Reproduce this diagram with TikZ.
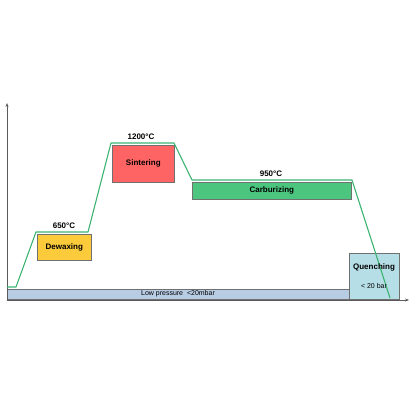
\documentclass[tikz,border=0pt]{standalone}
\usepackage{fontspec}
\setmainfont{Liberation Sans}
\usetikzlibrary{arrows.meta}
\definecolor{dewax}{HTML}{FBCB3C}
\definecolor{sinter}{HTML}{FF6464}
\definecolor{carb}{HTML}{4CC57E}
\definecolor{quench}{HTML}{B6DEE6}
\definecolor{lowp}{HTML}{B8CCE4}
\definecolor{curve}{HTML}{3CB371}
\definecolor{edge}{HTML}{707070}
\begin{document}
\begin{tikzpicture}[x=1pt,y=-1pt,
  stage/.style={draw=edge,line width=0.6pt,inner sep=0pt,anchor=north west,
    font=\fontsize{8}{9}\selectfont\bfseries},
  templabel/.style={font=\fontsize{8}{9}\selectfont\bfseries,inner sep=0pt},
  axisline/.style={draw=edge!80!black,line width=0.6pt,-{Stealth[length=4pt,width=3pt]}}]
\useasboundingbox (0,0) rectangle (410,410);
% low pressure bar
\node[stage,fill=lowp,minimum width=342pt,minimum height=10pt] (lp) at (7,289) {};
\node[font=\fontsize{7}{8}\selectfont,inner sep=0pt] (lptext) at (178,294) {Low pressure\ \ <20mbar};
% boxes
\node[stage,fill=dewax,minimum width=54pt,minimum height=26pt] (dw) at (37,234) {Dewaxing};
\node[stage,fill=sinter,minimum width=62pt,minimum height=37pt] (si) at (112,145) {Sintering};
\node[stage,fill=carb,minimum width=159pt,minimum height=17pt] (ca) at (192,182) {Carburizing};
\node[stage,fill=quench,minimum width=50pt,minimum height=46pt] (qu) at (349,253) {};
% temperature labels
\node[templabel] (t1) at (64,226) {650°C};
\node[templabel] (t2) at (141,137) {1200°C};
\node[templabel] (t3) at (271,174) {950°C};
% axes
\coordinate (o) at (7,300);
\coordinate (ytop) at (7,103);
\coordinate (xend) at (409,300);
\draw[axisline] (o) -- (ytop);
\draw[axisline] (o) -- (xend);
% temperature curve
\coordinate (p0) at (7,287);
\coordinate (p1) at (16,287);
\coordinate (p2) at (36,232);
\coordinate (p3) at (88,232);
\coordinate (p4) at (111,143);
\coordinate (p5) at (174,143);
\coordinate (p6) at (192,180);
\coordinate (p7) at (352,180);
\coordinate (p8) at (390,298);
\draw[curve,line width=1.1pt,line join=round] (p0) -- (p1) -- (p2) -- (p3) -- (p4) -- (p5) -- (p6) -- (p7) -- (p8);
% quenching texts above the curve
\node[templabel] (qt) at (374,267) {Quenching};
\node[font=\fontsize{7}{8}\selectfont,inner sep=0pt] (qb) at (374,286) {< 20 bar};
\end{tikzpicture}
\end{document}
